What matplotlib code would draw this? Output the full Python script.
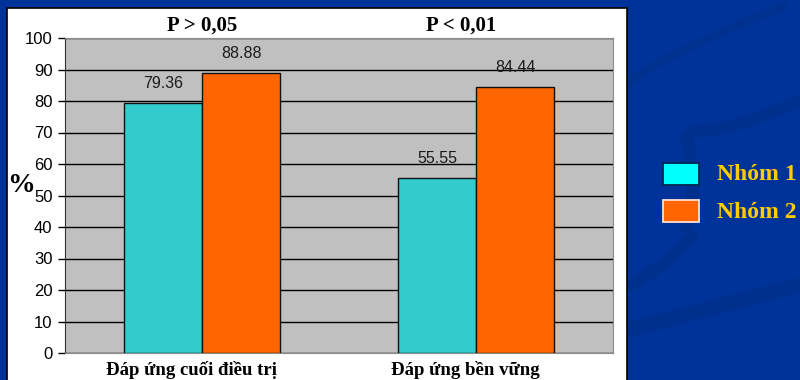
import matplotlib.pyplot as plt
import numpy as np
from matplotlib.patches import Rectangle
import matplotlib.transforms as mtransforms

categories = ['Đáp ứng cuối điều trị', 'Đáp ứng bền vững']
p_labels = ['P > 0,05', 'P < 0,01']
groups = ['Nhóm 1', 'Nhóm 2']
nhom1 = [79.36, 55.55]
nhom2 = [88.88, 84.44]

bar_colors = ['#33CCCC', '#FF6600']
legend_colors = ['#00FFFF', '#FF6600']
legend_edges = ['#00264D', '#FFE0D0']
serif = ['Liberation Serif', 'DejaVu Serif']
sans = ['Liberation Sans', 'DejaVu Sans']

fig = plt.figure(figsize=(8, 3.8), dpi=100)
fig.patch.set_facecolor('#003399')

# slide background, pixel coordinates
bg = fig.add_axes([0, 0, 1, 1], zorder=-5)
bg.set_xlim(0, 800)
bg.set_ylim(380, 0)
bg.axis('off')
swoosh = '#00308E'
t = np.linspace(0, 1, 100)
bg.plot(627 + 173 * t, 330 - 45 * t, color=swoosh, lw=11, solid_capstyle='butt', zorder=1)
bg.plot(800 - 115 * t, 100 + 32 * np.sin(t * np.pi / 2), color=swoosh, lw=9, solid_capstyle='butt', zorder=1)
bg.plot(685 + 8 * np.sin(t * np.pi), 132 + 100 * t, color=swoosh, lw=9, solid_capstyle='butt', zorder=1)
bg.plot(693 - 66 * t, 232 + 55 * t ** 0.7, color=swoosh, lw=9, solid_capstyle='butt', zorder=1)
bg.plot(627 + 160 * t, 85 - 80 * t ** 0.8, color='#00318F', lw=6, solid_capstyle='butt', zorder=1)

# legend drawn by hand on the blue side
for i, (name, fc, ec) in enumerate(zip(groups, legend_colors, legend_edges)):
    y0 = 163 + i * 37
    bg.add_patch(Rectangle((663, y0), 36, 22, facecolor=fc, edgecolor=ec, lw=1.3, zorder=5))
    bg.text(717, y0 + 12, name, ha='left', va='center', color='#FFCC00',
            fontsize=17, fontweight='bold', family=serif, zorder=5)

# white chart panel
fig.patches.append(Rectangle((7 / 800, -0.05), 620 / 800, 1.05 - 8 / 380,
                             transform=fig.transFigure, facecolor='white',
                             edgecolor='black', lw=1.2, zorder=-1))

ax = fig.add_axes([65 / 800, 27 / 380, 548 / 800, 315 / 380])
ax.set_facecolor('#C0C0C0')
x = np.arange(len(categories))
w = 0.285
b1 = ax.bar(x - w / 2, nhom1, w, color=bar_colors[0], edgecolor='#111111', lw=1, zorder=3)
b2 = ax.bar(x + w / 2, nhom2, w, color=bar_colors[1], edgecolor='#111111', lw=1, zorder=3)

for bars, vals in ((b1, nhom1), (b2, nhom2)):
    for rect, v in zip(bars, vals):
        ax.text(rect.get_x() + rect.get_width() / 2, v + 6.3, f'{v:.2f}',
                ha='center', va='center', fontsize=11.5, family=sans, color='#1a1a1a')

ax.set_xlim(-0.5, 1.5)
ax.set_ylim(0, 100)
ax.set_yticks(range(0, 101, 10))
ax.yaxis.grid(True, color='black', lw=1)
ax.set_axisbelow(True)
ax.tick_params(axis='y', length=5, width=1, labelsize=12, pad=4)
for lab in ax.get_yticklabels():
    lab.set_family(sans)
for s in ('top', 'right', 'bottom'):
    ax.spines[s].set_color('#8a8a8a')
ax.spines['left'].set_color('#333333')

ax.set_xticks(x)
ax.set_xticklabels(categories, fontsize=13.5, fontweight='bold', family=serif)
ax.tick_params(axis='x', length=0, pad=6)
shift = mtransforms.ScaledTranslation(-11 / 100, 0, fig.dpi_scale_trans)
for lab in ax.get_xticklabels():
    lab.set_transform(lab.get_transform() + shift)

title_x = [0.0, 0.945]
for tx, txt in zip(title_x, p_labels):
    ax.text(tx, 104, txt, ha='center', va='center', fontsize=15,
            fontweight='bold', family=serif)

fig.text(21 / 800, 1 - 186 / 380, '%', ha='center', va='center', fontsize=20,
         fontweight='bold', family=serif)

fig.savefig('out.png', dpi=100, facecolor=fig.get_facecolor())
